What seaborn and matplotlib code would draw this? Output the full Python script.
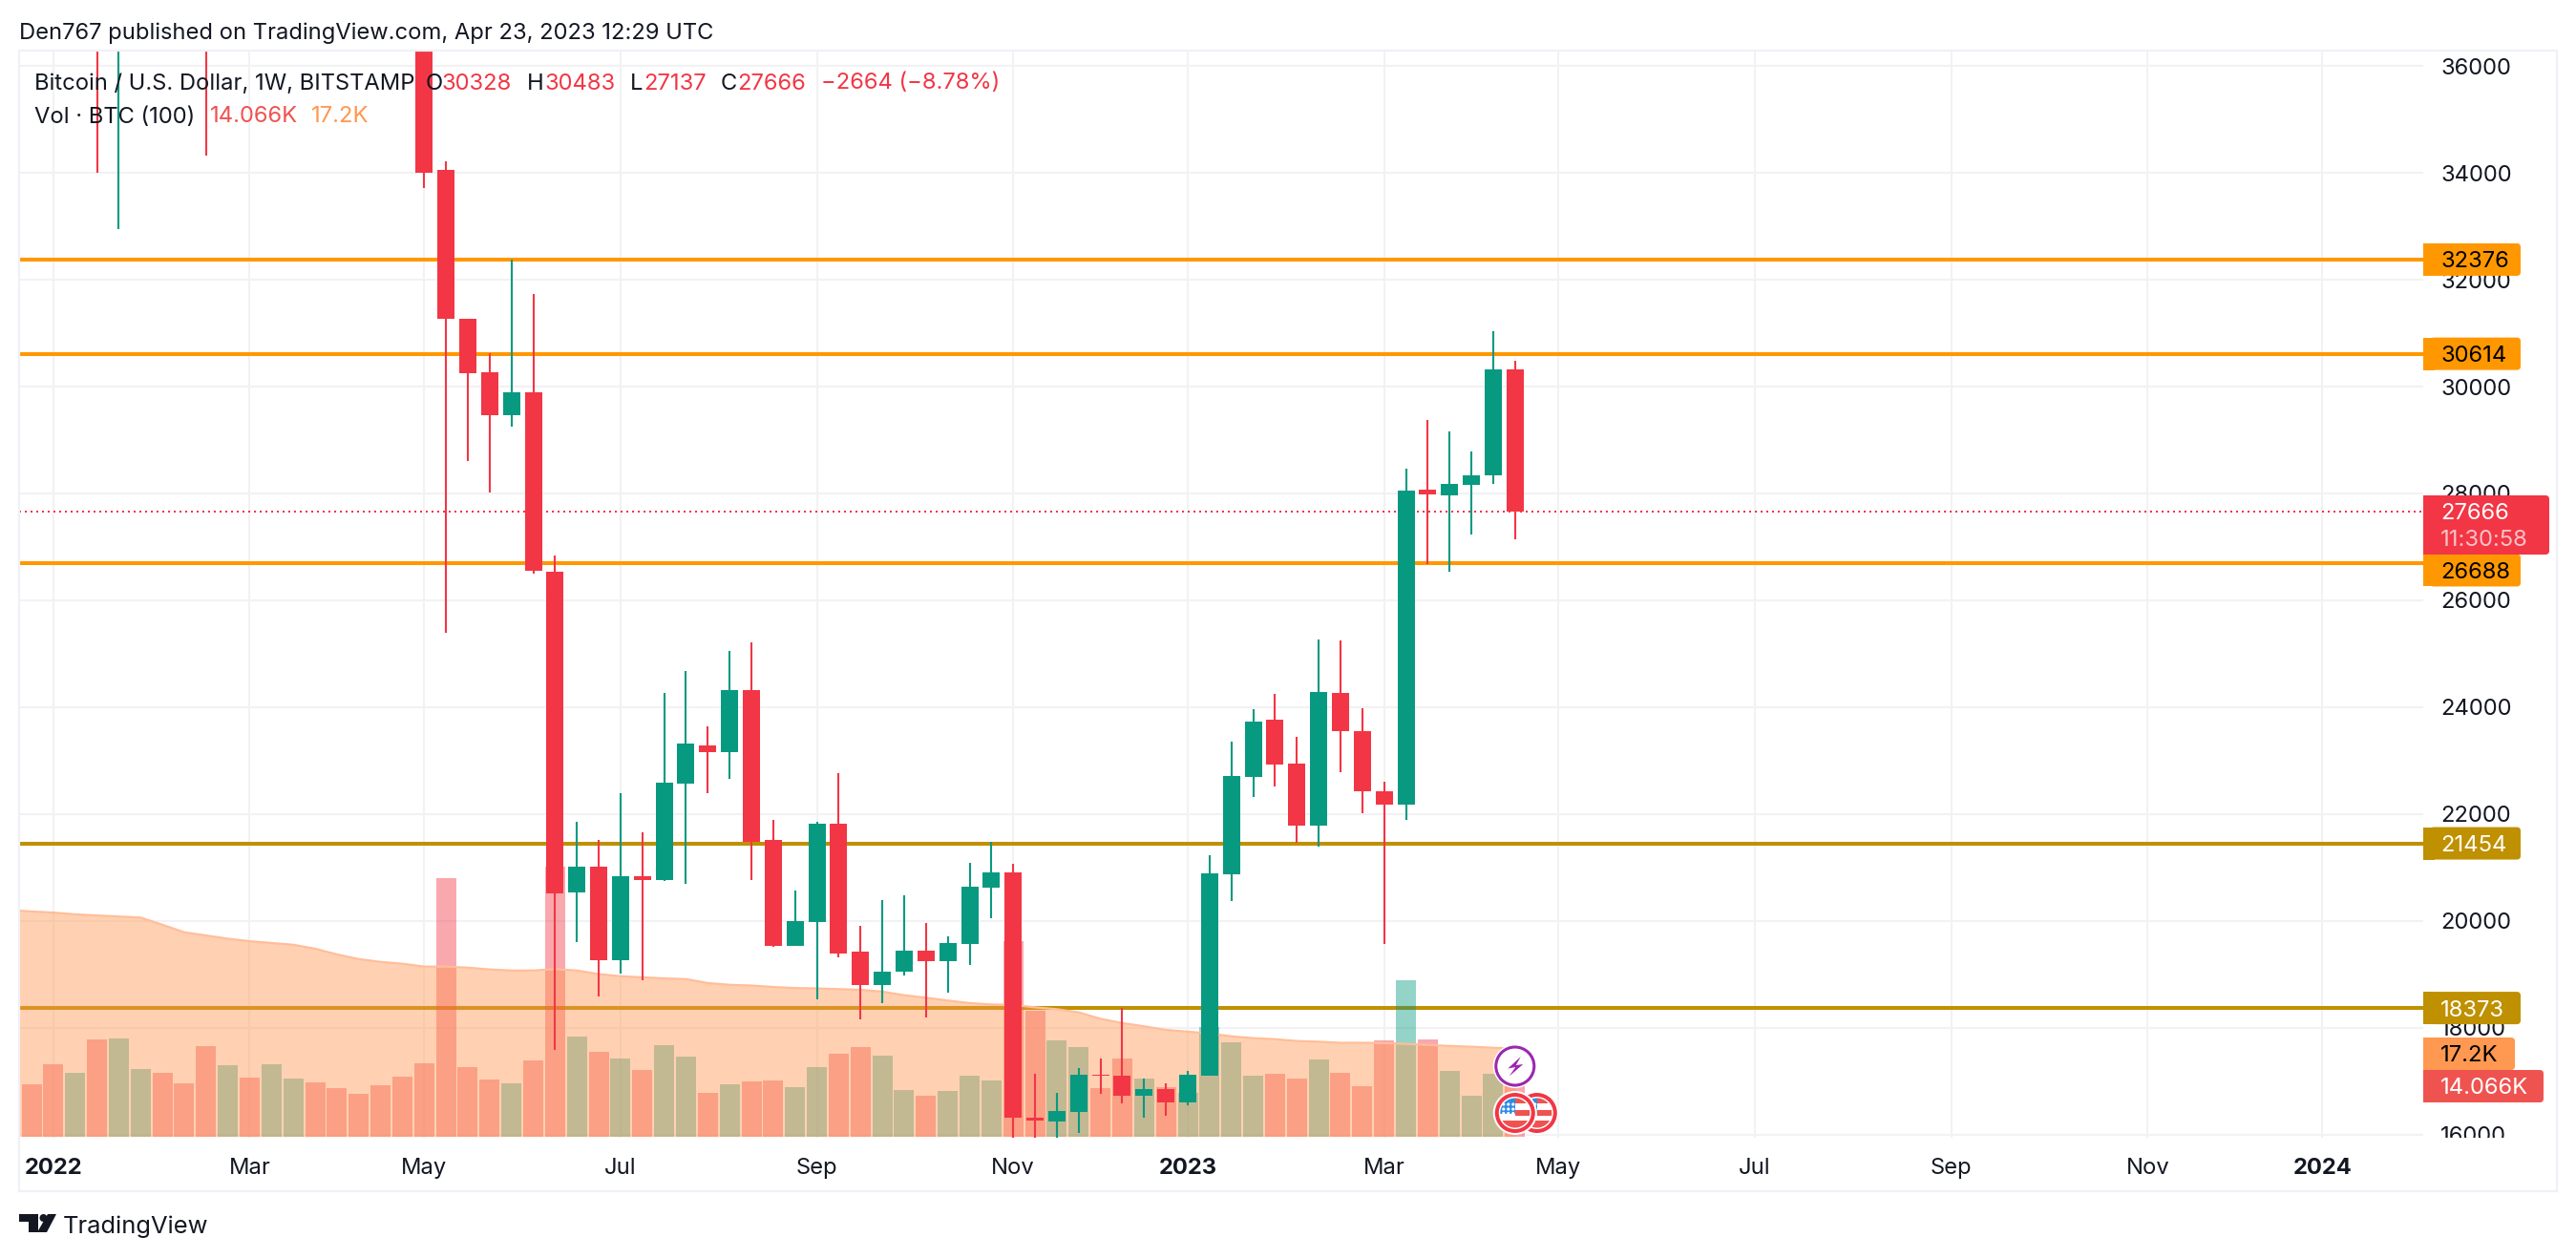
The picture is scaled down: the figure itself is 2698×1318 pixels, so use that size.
import numpy as np
import pandas as pd
import matplotlib
matplotlib.use("Agg")
import matplotlib.pyplot as plt
from matplotlib.patches import Rectangle, Circle, FancyBboxPatch, Polygon
from matplotlib.transforms import Bbox
import seaborn as sns

# ---------- data ----------
week_index = list(range(-1, 69))
opens = [46700,50800,47300,41800,43100,36300,38500,42400,42200,38400,37700,38800,37800,41300,46800,45800,42200,39700,39400,38500,
         34050,31270,30270,29460,29890,26540,20540,21020,19270,20840,20770,22570,23290,23160,24320,21520,19540,19980,21820,19430,
         18800,19050,19450,19250,19570,20630,20910,16320,16250,16420,17130,17100,16740,16850,16610,17110,20870,22690,23760,22940,
         21780,24270,23560,22420,22170,28070,27960,28160,28340,30328]
highs = [51900,52100,47600,44400,43500,38900,42600,45800,44800,40300,45400,42500,42400,47500,48200,47100,43400,42900,40800,40000,
         34210,31270,30620,32370,31730,26840,21860,21520,22390,21660,24270,24680,23640,25050,25210,21890,20570,21860,22770,19907,
         20390,20480,19960,19710,21090,21480,21070,17140,16790,17250,17430,18380,17060,16970,17190,21240,23360,23960,24250,23440,
         25270,25250,23990,22600,28460,29370,29160,28790,31040,30483]
lows = [45600,46000,40600,39700,34000,32950,36700,41700,38100,34320,37500,37100,37500,40600,45000,41000,39200,38600,37600,33714,
        25390,28610,28020,29250,26500,17590,19610,18590,19020,18890,20750,20700,22390,22660,20770,19520,19540,18540,19320,18160,
        18470,18980,18190,18660,19180,20050,15590,15480,15900,16040,16760,16580,16320,16350,16560,17110,20370,22330,22510,21470,
        21390,22780,22010,19570,21900,26680,26540,27230,28180,27137]
closes = [50800,47300,41800,43100,36300,38500,42400,42200,38400,37700,38800,37800,41300,46800,45800,42200,39700,39400,38500,34000,
          31270,30250,29460,29890,26550,20520,21020,19270,20840,20770,22590,23320,23160,24320,21480,19540,20000,21820,19390,18800,
          19050,19450,19250,19590,20640,20910,16320,16270,16440,17130,17100,16740,16850,16610,17130,20890,22720,23740,22920,21780,
          24290,23550,22420,22170,28050,27980,28180,28340,30320,27666]
volumes_k = [13.0,14.6,20.2,17.8,27.1,27.4,18.9,17.8,14.9,25.3,19.9,16.5,20.2,16.2,15.1,13.5,11.9,14.3,16.7,20.5,
             72.2,19.4,15.9,14.9,21.3,75.5,27.9,23.7,21.8,18.6,25.5,22.3,12.2,14.6,15.4,15.7,13.9,19.5,23.0,25.1,
             22.7,13.1,11.5,12.6,16.9,15.7,54.7,35.2,27.0,25.1,13.4,21.9,16.3,13.9,12.3,30.6,26.4,17.1,17.6,16.3,
             21.4,17.9,14.1,27.0,43.7,27.1,18.2,11.3,17.4,14.066]
vol_ma_k = [63.3,62.9,62.6,62.1,61.8,61.5,61.2,59.2,57.1,56.2,55.3,54.6,54.1,53.6,52.5,50.9,49.6,48.8,48.3,47.5,
            47.5,47.2,46.7,46.4,46.4,46.8,46.4,45.4,44.8,44.5,44.2,44.0,42.9,42.4,42.2,41.8,41.5,41.4,41.2,41.0,
            40.5,39.5,38.8,38.0,37.3,36.9,36.8,36.1,35.6,34.7,32.9,31.7,30.8,29.8,29.3,28.8,28.0,27.5,27.2,26.7,
            26.5,26.2,26.2,26.1,25.9,25.6,25.3,25.1,24.8,24.6]
price_ticks = [16000,18000,20000,22000,24000,26000,28000,30000,32000,34000,36000]
time_ticks = [1,10,18,27,36,45,53,62,70,79,88,97,105]
time_labels = ["2022","Mar","May","Jul","Sep","Nov","2023","Mar","May","Jul","Sep","Nov","2024"]
orange_levels = [32376,30614,26688]
gold_levels = [21454,18373]
last_price = 27666

# ---------- style ----------
sns.set_theme(style="white")
plt.rcParams["font.family"] = ["Inter", "DejaVu Sans"]
GREEN, RED = "#089981", "#F23645"
ORANGE, GOLD = "#FF9800", "#BF9000"
MA = "#FF9850"
GRID = "#F2F2F4"
INK = "#131722"
W, H = 2698, 1318
FS = 17.1

df = pd.DataFrame({"week": week_index, "open": opens, "high": highs, "low": lows, "close": closes,
                   "vol": volumes_k, "ma": vol_ma_k})
df["dir"] = np.where(df.close >= df.open, "up", "down")

fig = plt.figure(figsize=(W / 100, H / 100), dpi=100, facecolor="white")
rect = [20 / W, (H - 1192) / H, 2518 / W, 1139 / H]
xlim = (-0.569, 109.63)
ylim = (15946, 36286)
vlim = (-0.35, 303.6)

ax_base = fig.add_axes(rect, zorder=1)
ax_vol = fig.add_axes(rect, zorder=2)
ax_top = fig.add_axes(rect, zorder=3)
ax_px = fig.add_axes([0, 0, 1, 1], zorder=4)
for a in (ax_vol, ax_top, ax_px):
    a.patch.set_visible(False)

# base layer: grid + levels
ax_base.set_xlim(xlim); ax_base.set_ylim(ylim)
ax_base.set_yticks(price_ticks); ax_base.set_xticks(time_ticks)
ax_base.yaxis.tick_right()
ax_base.set_xticklabels(time_labels)
ax_base.tick_params(axis="y", length=0, pad=13, labelsize=FS, labelcolor=INK)
ax_base.tick_params(axis="x", length=0, pad=15, labelsize=FS, labelcolor=INK)
ax_base.grid(True, color=GRID, lw=1.5)
ax_base.set_axisbelow(True)
for s in ax_base.spines.values():
    s.set_visible(False)
for lab, txt in zip(ax_base.get_xticklabels(), time_labels):
    if txt.isdigit():
        lab.set_fontweight("bold")
clip = Bbox([[2538, H - 1192], [2680, H - 53]])
for lab in ax_base.get_yticklabels():
    lab.set_clip_on(True)
    lab.set_clip_box(clip)
ax_base.hlines(orange_levels, *xlim, color=ORANGE, lw=2.9, zorder=3)
ax_base.hlines(gold_levels, *xlim, color=GOLD, lw=2.9, zorder=3)

# volume layer
sns.barplot(data=df, x="week", y="vol", hue="dir", palette={"up": GREEN, "down": RED}, hue_order=["up", "down"],
            native_scale=True, dodge=False, width=21 / 22.85, alpha=0.43, saturation=1, linewidth=0,
            legend=False, ax=ax_vol, zorder=1)
ax_vol.fill_between(df.week, 0, df.ma, color=MA, alpha=0.44, lw=0, zorder=2)
sns.lineplot(data=df, x="week", y="ma", color="#FFBE9A", lw=1.6, errorbar=None, ax=ax_vol, zorder=3, legend=False)
ax_vol.set_xlim(xlim); ax_vol.set_ylim(vlim); ax_vol.axis("off")

# candle layer
ax_top.hlines(last_price, *xlim, color=RED, lw=1.44, linestyles=(0, (1, 2)), zorder=1)
ccol = np.where(df.close >= df.open, GREEN, RED)
ax_top.vlines(df.week, df.low, df.high, colors=ccol, lw=1.5, zorder=2)
ax_top.bar(df.week, (df.close - df.open).abs(), bottom=df[["open", "close"]].min(axis=1), width=18 / 22.85,
           color=ccol, lw=0, zorder=3)
ax_top.set_xlim(xlim); ax_top.set_ylim(ylim); ax_top.axis("off")

# overlay in figure pixels: frame, axis tags, titles, logo, event badges
ax_px.set_xlim(0, W); ax_px.set_ylim(H, 0); ax_px.axis("off")
ax_px.add_patch(Rectangle((20, 53), 2658, 1195, fill=False, ec="#F0F1F6", lw=1.6, zorder=0))

def ypx(p):
    return H - ax_top.transData.transform((0, p))[1]

def xpx(i):
    return ax_top.transData.transform((i, 0))[0]

def tag(yc, h, right, fc, lines):
    top = yc - h / 2
    ax_px.add_patch(FancyBboxPatch((2546, top + 1), right - 2546 - 1, h - 2, boxstyle="round,pad=1,rounding_size=4",
                                   fc=fc, ec="none", zorder=5))
    ax_px.add_patch(Rectangle((2538, top), 12, h, fc=fc, ec="none", zorder=5))
    for (yt, txt, col) in lines:
        ax_px.text(2556, yt, txt, color=col, fontsize=FS, va="center_baseline", ha="left", zorder=6)

for lv in [32376, 30614]:
    tag(ypx(lv), 34, 2640, ORANGE, [(ypx(lv), str(lv), "#000000")])
for lv in gold_levels:
    tag(ypx(lv), 34, 2640, GOLD, [(ypx(lv), str(lv), "#FFFFFF")])
tag(ypx(26688) + 7, 34, 2640, ORANGE, [(ypx(26688) + 7, "26688", "#000000")])
tag(550, 62, 2670, RED, [(ypx(last_price), str(last_price), "#FFFFFF"), (563, "11:30:58", "#FBC3C7")])
tag(1104, 34, 2634, MA, [(1104, "17.2K", "#000000")])
tag(1138, 34, 2664, "#EF5350", [(1138, "14.066K", "#FFFFFF")])

ax_px.text(20, 32, "Den767 published on TradingView.com, Apr 23, 2023 12:29 UTC", color=INK, fontsize=FS, va="center_baseline")
def t(x, y, s, c):
    ax_px.text(x, y, s, color=c, fontsize=FS, va="center_baseline", ha="left", zorder=6)
t(36, 85, "Bitcoin / U.S. Dollar, 1W, BITSTAMP", INK)
for x, s, c in [(446, "O", INK), (463, "30328", RED), (552, "H", INK), (570, "30483", RED), (660, "L", INK), (674, "27137", RED),
                (755, "C", INK), (772, "27666", RED), (860, "\u22122664 (\u22128.78%)", RED)]:
    t(x, 85, s, c)
t(36, 120, "Vol \u00b7 BTC (100)", INK)
t(220, 120, "14.066K", "#EF5350")
t(326, 120, "17.2K", MA)

# logo
LOGO = "#131722"
ax_px.add_patch(Polygon([(20, 1272), (40, 1272), (40, 1291), (30, 1291), (30, 1280), (20, 1280)], fc=LOGO, ec="none"))
ax_px.add_patch(Circle((45.5, 1276), 4, fc=LOGO, ec="none"))
ax_px.add_patch(Polygon([(50, 1272), (59, 1272), (49, 1291), (39, 1291)], fc=LOGO, ec="none"))
ax_px.text(66, 1283, "TradingView", color=LOGO, fontsize=18.4, va="center_baseline")

# event badges
def flag(cx, cy, z):
    ax_px.add_patch(Circle((cx, cy), 23, fc="white", ec="none", zorder=z))
    ax_px.add_patch(Circle((cx, cy), 21, fc=RED, ec="none", zorder=z))
    ax_px.add_patch(Circle((cx, cy), 17, fc="white", ec="none", zorder=z))
    inner = Circle((cx, cy), 15.5, fc="white", ec="none", zorder=z)
    ax_px.add_patch(inner)
    for (x0, y0, w, h, col) in [(0, -16, 16, 6, "#EF5350"), (0, -3, 16, 6, "#EF5350"), (-16, 8, 32, 8, "#EF5350"),
                                (-16, -16, 16, 17, "#2E8DE5")]:
        r = Rectangle((cx + x0, cy + y0), w, h, fc=col, ec="none", zorder=z)
        ax_px.add_patch(r)
        r.set_clip_path(inner)
    for dx in (-12, -7, -2):
        for dy in (-9, -4, 0.5):
            ax_px.add_patch(Circle((cx + dx, cy + dy), 1.6, fc="white", ec="none", zorder=z))

ex = xpx(68)
flag(ex + 23, 1166, 7)
flag(ex, 1166, 8)
ax_px.add_patch(Circle((ex, 1117), 23, fc="white", ec="none", zorder=7))
ax_px.add_patch(Circle((ex, 1117), 20, fc="white", ec="#9C27B0", lw=2.2, zorder=8))
ax_px.add_patch(Polygon([(ex + 6, 1107), (ex - 7.5, 1119.5), (ex + 0.5, 1118), (ex - 6, 1127.5), (ex + 8.5, 1115), (ex + 1, 1116)],
                        fc="#9C27B0", ec="none", zorder=9))

fig.savefig("out.png", dpi=100)
